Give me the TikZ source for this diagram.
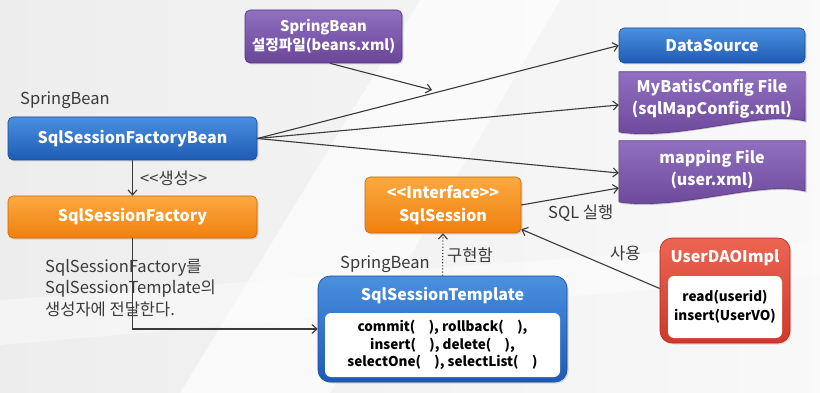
\documentclass[tikz,border=0pt]{standalone}
\usepackage{fontspec}
\setmainfont{Noto Sans CJK KR}
\usetikzlibrary{shadows,arrows.meta,calc}
\definecolor{txt}{HTML}{3A3A3A}
\definecolor{blueT}{HTML}{4A8FE0}
\definecolor{blueB}{HTML}{1E5CB3}
\definecolor{blueD}{HTML}{1A4C94}
\definecolor{orT}{HTML}{FCA940}
\definecolor{orB}{HTML}{F0800E}
\definecolor{orD}{HTML}{C8680A}
\definecolor{puT}{HTML}{9070C0}
\definecolor{puB}{HTML}{6A4598}
\definecolor{puD}{HTML}{563880}
\definecolor{reT}{HTML}{EE6452}
\definecolor{reB}{HTML}{CC3A2A}
\definecolor{reD}{HTML}{A82E22}
\tikzset{
  box/.style={rounded corners=5pt, draw, line width=0.6pt, drop shadow={opacity=0.25, shadow xshift=1.5pt, shadow yshift=-1.5pt},
    text=white, font=\bfseries\fontsize{16}{23}\selectfont, align=center, inner sep=0pt},
  bluebox/.style={box, top color=blueT, bottom color=blueB, draw=blueD},
  orbox/.style={box, top color=orT, bottom color=orB, draw=orD},
  pubox/.style={box, top color=puT, bottom color=puB, draw=puD},
  redbox/.style={box, top color=reT, bottom color=reB, draw=reD},
  inner/.style={rounded corners=6pt, fill=white, text=black, font=\bfseries\fontsize{13.5}{17.5}\selectfont, align=center, inner sep=0pt},
  lbl/.style={text=txt, font=\fontsize{16.5}{20}\selectfont, anchor=west, inner sep=0pt},
  arr/.style={draw=txt, line width=1.1pt, -{Straight Barb[length=5pt,width=9pt]}},
  ghost/.style={inner sep=0pt},
  doctext/.style={text=white, font=\bfseries\fontsize{16}{22}\selectfont, align=center, inner sep=0pt}
}
\begin{document}
\begin{tikzpicture}[x=1pt,y=-1pt]
\useasboundingbox (0,0) rectangle (820,393);
\shade[left color=gray!14, right color=gray!5] (0,0) rectangle (820,393);
\fill[white, opacity=0.6] (180,393) -- (420,0) -- (560,0) -- (330,393) -- cycle;
\fill[white, opacity=0.4] (0,300) -- (820,240) -- (820,275) -- (0,345) -- cycle;

% nodes
\node[bluebox, minimum width=249pt, minimum height=43pt] (fb) at (132.5,138.5) {SqlSessionFactoryBean};
\node[orbox, minimum width=249pt, minimum height=42pt] (f) at (132.5,217) {SqlSessionFactory};
\node[orbox, minimum width=156pt, minimum height=56pt] (ss) at (443,205) {<{}<Interface>{}>\\SqlSession};
\node[pubox, minimum width=157pt, minimum height=53pt, font=\bfseries\fontsize{14.7}{19}\selectfont] (beans) at (323.5,36.5) {SpringBean\\설정파일(beans.xml)};
\node[bluebox, minimum width=186pt, minimum height=35pt] (ds) at (712,45.5) {DataSource};

% document shapes
\node[ghost, minimum width=186pt, minimum height=58pt] (mb) at (712,101) {};
\fill[puD!60!black, opacity=0.25] ($(mb.north west)+(1.5,1.5)$) -- ($(mb.north east)+(1.5,1.5)$) -- (806.5,122.5)
  .. controls (760,111) and (680,142) .. (620.5,133.5) -- cycle;
\path[top color=puT, bottom color=puB, draw=puD, line width=0.6pt] (mb.north west) -- (mb.north east) -- (805,121)
  .. controls (760,110) and (680,141) .. (619,132) -- cycle;
\node[doctext] at (712,99) {MyBatisConfig File\\(sqlMapConfig.xml)};

\node[ghost, minimum width=186pt, minimum height=60pt] (map) at (712,171) {};
\fill[puD!60!black, opacity=0.25] ($(map.north west)+(1.5,1.5)$) -- ($(map.north east)+(1.5,1.5)$) -- (806.5,192.5)
  .. controls (760,181) and (680,212) .. (620.5,203.5) -- cycle;
\path[top color=puT, bottom color=puB, draw=puD, line width=0.6pt] (map.north west) -- (map.north east) -- (805,191)
  .. controls (760,180) and (680,211) .. (619,202) -- cycle;
\node[doctext] at (712,169) {mapping File\\(user.xml)};

% SqlSessionTemplate
\node[bluebox, minimum width=249pt, minimum height=106pt, rounded corners=12pt] (tmpl) at (442.5,329) {};
\node[text=white, font=\bfseries\fontsize{16}{19}\selectfont, inner sep=0pt] (tmplT) at (442.5,296) {SqlSessionTemplate};
\node[inner, minimum width=235pt, minimum height=64pt] (tmplI) at (442.5,345) {commit(\quad), rollback(\quad),\\insert(\quad), delete(\quad),\\selectOne(\quad), selectList(\quad)};

% UserDAOImpl
\node[redbox, minimum width=130pt, minimum height=105pt, rounded corners=12pt] (dao) at (725,290.5) {};
\node[text=white, font=\bfseries\fontsize{16}{19}\selectfont, inner sep=0pt] (daoT) at (725,258) {UserDAOImpl};
\node[inner, minimum width=114pt, minimum height=62pt, font=\bfseries\fontsize{13.5}{19}\selectfont] (daoI) at (725,307) {read(userid)\\insert(UserVO)};

% labels
\node[lbl] (l1) at (20,100) {SpringBean};
\node[lbl] (l2) at (140,178) {<{}<생성>{}>};
\node[lbl] (l3) at (340,264) {SpringBean};
\node[lbl] (l4) at (447,255) {구현함};
\node[lbl] (l5) at (548,213) {SQL 실행};
\node[lbl] (l6) at (610,253) {사용};
\node[lbl, align=left, font=\fontsize{16.5}{21.5}\selectfont] (l7) at (45,288) {SqlSessionFactory를\\SqlSessionTemplate의\\생성자에 전달한다.};

% connectors
\coordinate (bt) at (432,90);
\draw[arr] ([xshift=6.5pt]beans.south) -- (bt);
\draw[arr] (fb.east) -- (ds.west);
\draw[arr] (fb.east) -- ([yshift=-4pt]mb.west);
\draw[arr] (fb.east) -- ([yshift=-2pt]map.west);
\draw[arr] (ss.east) -- ([yshift=-17pt]map.west);
\draw[arr] ([yshift=2pt]dao.west) -- ([yshift=4pt]ss.south east);
\draw[arr] (fb.south) -- (f.north);
\draw[arr] (f.south) |- (tmpl.west);
\draw[arr, dotted] (tmpl.north) -- (ss.south);
\end{tikzpicture}
\end{document}
